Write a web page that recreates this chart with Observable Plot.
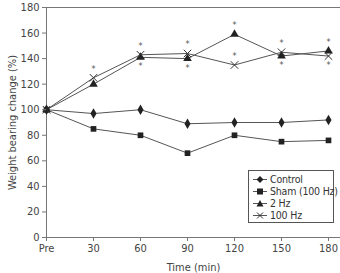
<!DOCTYPE html>
<html><head><meta charset="utf-8">
<script src="https://cdn.jsdelivr.net/npm/d3@7"></script>
<script src="https://cdn.jsdelivr.net/npm/@observablehq/plot@0.6"></script>
<style>
body{margin:0;background:#fff;}
#wrap{position:relative;width:340px;height:273px;overflow:hidden;font-family:"DejaVu Sans",sans-serif;font-stretch:condensed;}
#wrap svg text{font-stretch:condensed;}
#legend{position:absolute;left:248px;top:170px;box-sizing:border-box;width:86px;height:53px;border:1px solid #555;background:#fff;font-size:10.5px;color:#333;padding:2px 0 0 2px;line-height:12px;font-stretch:condensed;letter-spacing:-0.2px;}
#legend div{display:flex;align-items:center;white-space:nowrap;}
#legend svg{margin-right:1px;flex:none;}
</style></head>
<body><div id="wrap"></div>
<script>
const times = [0, 30, 60, 90, 120, 150, 180];
const timeLabels = ["Pre", "30", "60", "90", "120", "150", "180"];
const seriesNames = ["Control", "Sham (100 Hz)", "2 Hz", "100 Hz"];
const control = [100, 97, 100, 89, 90, 90, 92];
const sham = [100, 85, 80, 66, 80, 75, 76];
const hz2 = [100, 120, 141, 140, 159, 142, 146];
const hz100 = [100, 125, 143, 144, 135, 145, 142];
const yTicks = [0, 20, 40, 60, 80, 100, 120, 140, 160, 180];
// significance asterisks: [time, series index, above(1)/below(-1)]
const stars = [[30,3,1],[60,3,1],[60,2,-1],[90,3,1],[90,2,-1],[120,2,1],[120,3,1],[150,3,1],[150,2,-1],[180,2,1],[180,3,-1]];

const allVals = [control, sham, hz2, hz100];
const symbols = ["diamond", "square", "triangle", "times"];
const data = [];
allVals.forEach((vals, s) => vals.forEach((v, i) => data.push({t: times[i], v, s: seriesNames[s], sym: symbols[s]})));
const starData = stars.map(([t, s, d]) => ({t, v: allVals[s][times.indexOf(t)], d}));

const xMax = 180 * (340 - 46) / (328 - 46);
const font = '"DejaVu Sans",sans-serif';

const plot = Plot.plot({
  width: 340, height: 273,
  marginLeft: 46, marginRight: 0, marginTop: 7, marginBottom: 36,
  style: {fontFamily: font, fontSize: "11px", color: "#444", background: "#fff"},
  x: {domain: [0, xMax]},
  y: {domain: [0, 180]},
  symbol: {domain: symbols, range: symbols},
  marks: [
    Plot.ruleY([0, 180], {stroke: "#777", strokeWidth: 1}),
    Plot.ruleX([0], {y1: 0, y2: 180, stroke: "#777"}),
    Plot.line(data, {x: "t", y: "v", z: "s", stroke: "#555", strokeWidth: 1}),
    Plot.dot(data.filter(d => d.sym !== "times"), {x: "t", y: "v", symbol: "sym", fill: "#222", r: 3.2}),
    Plot.dot(data.filter(d => d.sym === "times"), {x: "t", y: "v", symbol: "sym", stroke: "#333", strokeWidth: 1, r: 3.5}),
    Plot.text(starData.filter(d => d.d > 0), {x: "t", y: "v", text: () => "*", dy: -9, fontSize: 9, fill: "#555"}),
    Plot.text(starData.filter(d => d.d < 0), {x: "t", y: "v", text: () => "*", dy: 9, fontSize: 9, fill: "#555"}),
    Plot.axisX({ticks: times, tickFormat: d => timeLabels[times.indexOf(d)], tickSize: 4, tickPadding: 3, stroke: "#777", fill: "#444", label: "Time (min)", labelAnchor: "center", labelArrow: "none", labelOffset: 33, fontSize: 11}),
    Plot.axisY({ticks: yTicks, tickSize: 4, tickPadding: 3, stroke: "#777", fill: "#444", label: "Weight bearing change (%)", labelAnchor: "center", labelArrow: "none", labelOffset: 38, fontSize: 11})
  ]
});
const wrap = document.getElementById("wrap");
wrap.appendChild(plot);

const legend = document.createElement("div");
legend.id = "legend";
const shapes = {
  diamond: '<path d="M9,2 L12.5,5.5 L9,9 L5.5,5.5Z" fill="#222"/>',
  square: '<rect x="6" y="2.5" width="6" height="6" fill="#222"/>',
  triangle: '<path d="M9,2 L12.5,8.5 L5.5,8.5Z" fill="#222"/>',
  times: '<path d="M6,2.5 L12,8.5 M12,2.5 L6,8.5" stroke="#333" stroke-width="1"/>'
};
seriesNames.forEach((n, i) => {
  const row = document.createElement("div");
  row.innerHTML = `<svg width="18" height="11"><line x1="2" x2="16" y1="5.5" y2="5.5" stroke="#555"/>${shapes[symbols[i]]}</svg><span>${n}</span>`;
  legend.appendChild(row);
});
wrap.appendChild(legend);
</script></body></html>
